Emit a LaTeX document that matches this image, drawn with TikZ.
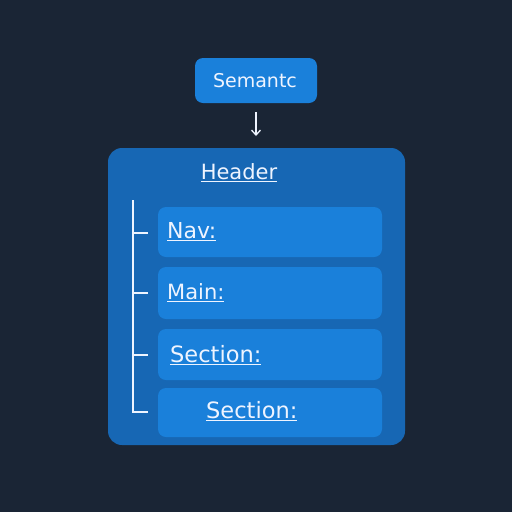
\documentclass[tikz,border=0pt]{standalone}
\usepackage{fontspec}
\setmainfont{DejaVu Sans}
\usetikzlibrary{arrows.meta}
\definecolor{bgc}{HTML}{1A2535}
\definecolor{outerc}{HTML}{1767B4}
\definecolor{innerc}{HTML}{1A80DA}
\definecolor{topc}{HTML}{1A80DA}
\definecolor{txtc}{HTML}{EEF4FF}
\tikzset{
  lbl/.style={text=txtc, inner sep=0pt},
  itembox/.style={fill=innerc, rounded corners=8pt, draw=none},
  tree/.style={draw=txtc, line width=1.4pt},
}
\newcommand{\ul}[1]{\underline{#1}}
\begin{document}
\begin{tikzpicture}[x=1pt,y=-1pt]
\fill[bgc] (0,0) rectangle (512,512);
\useasboundingbox (0,0) rectangle (512,512);
% top node
\node[fill=topc, rounded corners=8pt, minimum width=122pt, minimum height=45pt, inner sep=0pt] (sem) at (256,80.5) {};
\node[lbl, font=\fontsize{19}{21}\selectfont] (semt) at (255,81) {Semantc};
% outer container
\node[fill=outerc, rounded corners=14pt, minimum width=297pt, minimum height=297pt, inner sep=0pt] (outer) at (256.5,296.5) {};
\coordinate (arrEnd) at (256,136);
\draw[draw=txtc, line width=1.3pt, -{Straight Barb[length=5pt,width=9pt]}] (256,112) -- (arrEnd);
\node[lbl, font=\fontsize{21}{23}\selectfont] (head) at (239,173) {\ul{Header}};
% items
\node[itembox, minimum width=224pt, minimum height=50pt, inner sep=0pt] (nav) at (270,232) {};
\node[itembox, minimum width=224pt, minimum height=52pt, inner sep=0pt] (main) at (270,293) {};
\node[itembox, minimum width=224pt, minimum height=51pt, inner sep=0pt] (sec1) at (270,354.5) {};
\node[itembox, minimum width=224pt, minimum height=49pt, inner sep=0pt] (sec2) at (270,412.5) {};
\node[lbl, anchor=west, font=\fontsize{22}{24}\selectfont] (navt) at (167,232) {\ul{Nav:}};
\node[lbl, anchor=west, font=\fontsize{21}{23}\selectfont] (maint) at (167,293) {\ul{Main:}};
\node[lbl, anchor=west, font=\fontsize{22.5}{24}\selectfont] (sec1t) at (170,355) {\ul{Section:}};
\node[lbl, anchor=west, font=\fontsize{22.5}{24}\selectfont] (sec2t) at (206,411) {\ul{Section:}};
% tree
\coordinate (treeTop) at (133,200);
\coordinate (treeBot) at (133,412);
\draw[tree] (treeTop) -- (treeBot) -- (148,412);
\draw[tree] (133,233) -- (148,233);
\draw[tree] (133,293) -- (148,293);
\draw[tree] (133,355) -- (148,355);
\end{tikzpicture}
\end{document}
